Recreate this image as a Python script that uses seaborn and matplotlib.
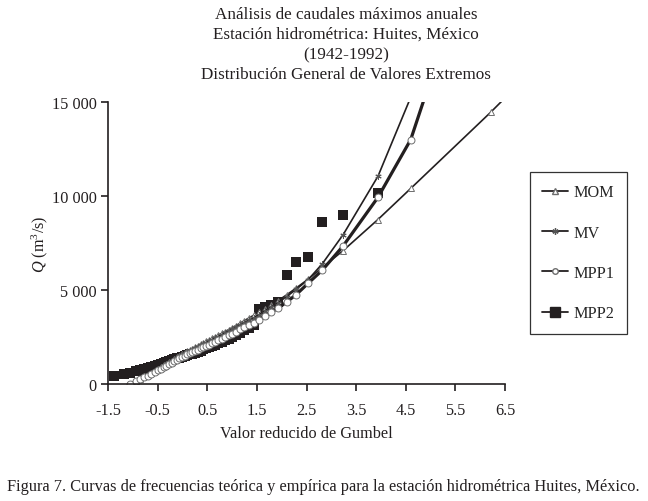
import matplotlib
matplotlib.use('Agg')
import matplotlib.pyplot as plt
from matplotlib.lines import Line2D
from matplotlib.ticker import FuncFormatter
import seaborn as sns
import pandas as pd

# =====================================================================
# Datos
# ---------------------------------------------------------------------
# - x: valor reducido de Gumbel de cada gasto observado (51 años)
# - MPP2: gastos observados (cuadros)
# - MOM / MV / MPP1: curvas ajustadas (GVE)
# =====================================================================
x_obs = [-1.37, -1.18, -1.05, -0.94, -0.85, -0.77, -0.70, -0.63, -0.56, -0.50,
         -0.44, -0.38, -0.33, -0.27, -0.22, -0.16, -0.11, -0.06, -0.01, 0.05,
         0.10, 0.15, 0.20, 0.26, 0.31, 0.37, 0.42, 0.48, 0.54, 0.60,
         0.66, 0.72, 0.79, 0.86, 0.93, 1.00, 1.08, 1.16, 1.25, 1.34,
         1.44, 1.54, 1.66, 1.79, 1.93, 2.10, 2.29, 2.53, 2.82, 3.24, 3.94]
q_mpp2 = [450, 520, 600, 680, 740, 800, 860, 920, 970, 1010,
          1060, 1110, 1170, 1220, 1270, 1320, 1360, 1400, 1440, 1480,
          1520, 1570, 1620, 1670, 1720, 1780, 1840, 1900, 1960, 2030,
          2100, 2180, 2260, 2340, 2420, 2500, 2600, 2720, 2850, 3000,
          3150, 4000, 4100, 4200, 4350, 5800, 6470, 6740, 8600, 9000, 10150]

# posiciones de las curvas (desde el 3er dato) + periodos de retorno 100, 500, 1000 años
x_fit = x_obs[2:]
x_ext = [4.60, 6.21, 6.91]

q_mom = [0, 160, 290, 400, 500, 610, 710, 810, 900, 1000,
         1080, 1170, 1250, 1350, 1430, 1500, 1590, 1670, 1740, 1810,
         1880, 1960, 2030, 2120, 2190, 2270, 2350, 2440, 2520, 2600,
         2690, 2790, 2880, 2980, 3100, 3230, 3370, 3510, 3660, 3810,
         4010, 4210, 4440, 4740, 5100, 5570, 6200, 7100, 8750,
         10400, 14450, 16300]
q_mv = [0, 150, 280, 390, 480, 580, 680, 780, 870, 960,
        1040, 1130, 1210, 1300, 1380, 1460, 1530, 1620, 1690, 1750,
        1820, 1900, 1970, 2050, 2120, 2200, 2280, 2360, 2440, 2520,
        2620, 2710, 2810, 2900, 3020, 3130, 3260, 3390, 3530, 3690,
        3890, 4100, 4330, 4650, 5030, 5540, 6400, 7950, 11050,
        15250]
q_mpp1 = [0, 140, 260, 360, 450, 540, 640, 730, 810, 900,
          970, 1060, 1130, 1220, 1290, 1360, 1440, 1510, 1570, 1630,
          1690, 1760, 1820, 1890, 1950, 2030, 2100, 2180, 2250, 2330,
          2420, 2500, 2590, 2680, 2790, 2900, 3010, 3140, 3270, 3410,
          3610, 3820, 4040, 4360, 4750, 5350, 6060, 7350, 9930,
          13000, 25800]

titulo = ["Análisis de caudales máximos anuales",
          "Estación hidrométrica: Huites, México",
          "(1942-1992)",
          "Distribución General de Valores Extremos"]
pie = "Figura 7. Curvas de frecuencias teórica y empírica para la estación hidrométrica Huites, México."
series = ["MOM", "MV", "MPP1", "MPP2"]

x_ticks = [-1.5, -0.5, 0.5, 1.5, 2.5, 3.5, 4.5, 5.5, 6.5]
y_ticks = [0, 5000, 10000, 15000]

# =====================================================================
# Estilo
# =====================================================================
sns.set_style('ticks')
plt.rcParams['font.family'] = ['Liberation Serif', 'DejaVu Serif']
plt.rcParams['mathtext.fontset'] = 'custom'
plt.rcParams['mathtext.rm'] = 'Liberation Serif'
plt.rcParams['mathtext.it'] = 'Liberation Serif:italic'
negro = '#231f20'
fs = 11.7

fig = plt.figure(figsize=(6.48, 5.02), dpi=100)
ax = fig.add_axes([108 / 648, 1 - 385 / 502, 397 / 648, 282 / 502])

df_mom = pd.DataFrame({'x': x_fit + x_ext, 'Q': q_mom})
df_mv = pd.DataFrame({'x': x_fit + x_ext[:1], 'Q': q_mv})
df_mpp1 = pd.DataFrame({'x': x_fit + x_ext[:2], 'Q': q_mpp1})
df_obs = pd.DataFrame({'x': x_obs, 'Q': q_mpp2})

sns.lineplot(data=df_mom, x='x', y='Q', ax=ax, color=negro, lw=1.2, sort=False,
             estimator=None, marker='^', markersize=4.5, markerfacecolor='white',
             markeredgecolor='#6d6d6d', markeredgewidth=0.7)
sns.lineplot(data=df_mv, x='x', y='Q', ax=ax, color=negro, lw=1.2, sort=False,
             estimator=None, marker=(6, 2, 0), markersize=4.5,
             markeredgecolor='#555555', markeredgewidth=0.7)
sns.lineplot(data=df_mpp1, x='x', y='Q', ax=ax, color=negro, lw=2.3, sort=False,
             estimator=None, marker='o', markersize=5, markerfacecolor='white',
             markeredgecolor='#6d6d6d', markeredgewidth=0.7)
sns.scatterplot(data=df_obs, x='x', y='Q', ax=ax, color=negro, marker='s', s=58,
                edgecolor=negro, linewidth=0, zorder=1)

ax.set_xlim(-1.5, 6.5)
ax.set_ylim(0, 15000)
ax.set_xticks(x_ticks)
ax.set_xticklabels([f"{t:.1f}" for t in x_ticks])
ax.set_yticks(y_ticks)
ax.yaxis.set_major_formatter(FuncFormatter(lambda v, p: f"{int(v):,}".replace(",", " ")))
sns.despine(ax=ax)
for s in ['left', 'bottom']:
    ax.spines[s].set_color(negro)
    ax.spines[s].set_linewidth(1.2)
ax.tick_params(colors=negro, length=5, width=1.2, labelsize=fs)
ax.tick_params(axis='x', pad=8)
ax.tick_params(axis='y', pad=3)
ax.set_xlabel("Valor reducido de Gumbel", fontsize=fs, labelpad=5, color=negro)
ax.set_ylabel(r"$Q$ (m$^3$/s)", fontsize=fs, color=negro)
ax.yaxis.set_label_coords(-0.146, 0.5)

# leyenda
marcas = [dict(marker='^', markersize=4.5, markerfacecolor='white', markeredgecolor='#6d6d6d'),
          dict(marker=(6, 2, 0), markersize=4.5, markeredgecolor='#555555'),
          dict(marker='o', markersize=4, markerfacecolor='white', markeredgecolor='#6d6d6d'),
          dict(marker='s', markersize=6.5, markerfacecolor=negro, markeredgecolor=negro)]
handles = [Line2D([], [], color=negro, lw=1.3, **m) for m in marcas]
leg = ax.legend(handles, series, loc='upper left', bbox_to_anchor=(530 / 648, 1 - 173 / 502),
                bbox_transform=fig.transFigure, frameon=True, fancybox=False,
                edgecolor='black', borderpad=0.75, labelspacing=1.5, handlelength=1.6,
                handletextpad=0.35, fontsize=fs, borderaxespad=0)
leg.get_frame().set_linewidth(0.9)

# títulos y pie
for i, linea in enumerate(titulo):
    fig.text(346 / 648, 1 - (15 + 20 * i) / 502, linea, ha='center', va='center',
             fontsize=12.3, color=negro)
fig.text(7 / 648, 1 - 487 / 502, pie, ha='left', va='center', fontsize=11.8, color=negro)

fig.savefig('out.png', dpi=100)
